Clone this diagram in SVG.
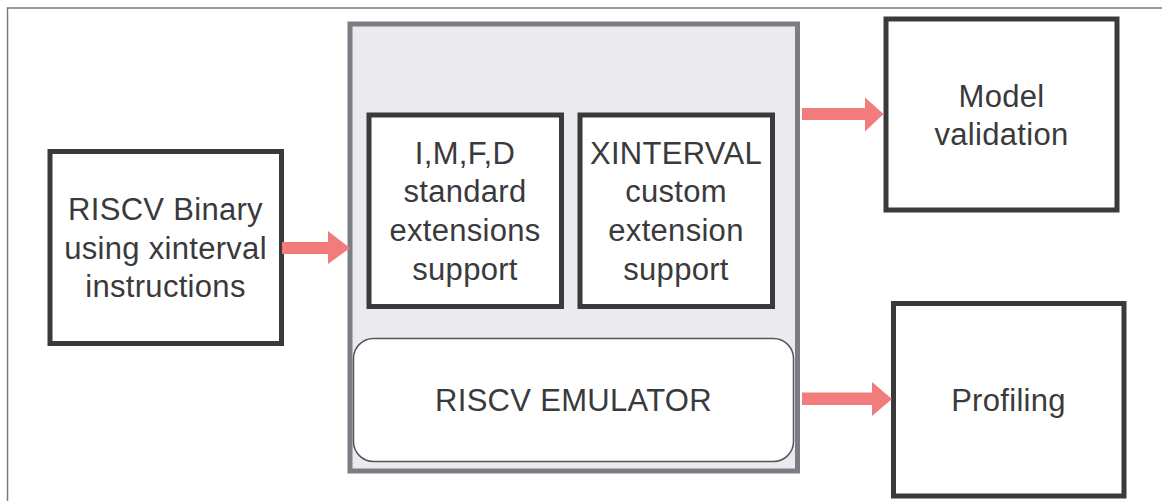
<svg xmlns="http://www.w3.org/2000/svg" width="1162" height="501" viewBox="0 0 1162 501">
<defs>
<style>
.box{fill:#ffffff;stroke:#3a3a3d;stroke-width:5}
.t{font-family:"Liberation Sans",Arial,sans-serif;font-size:31px;letter-spacing:0.3px;fill:#3a3a3c;text-anchor:middle}
.arrow{fill:#f27b7b}
</style>
</defs>
<rect x="0" y="0" width="1162" height="501" fill="#ffffff"/>
<rect x="7.5" y="8" width="1170" height="510" fill="none" stroke="#7a7a7a" stroke-width="1.5"/>
<g id="riscv-binary">
<rect class="box" x="50" y="151.5" width="231.5" height="192"/>
<text class="t" x="165.5" y="220">RISCV Binary</text>
<text class="t" x="165.5" y="258.5">using xinterval</text>
<text class="t" x="165.5" y="297">instructions</text>
</g>
<g id="emulator-container">
<rect x="350" y="24" width="447.5" height="447" fill="#ebebef" stroke="#7b7d83" stroke-width="5"/>
</g>
<g id="std-ext">
<rect class="box" x="369" y="115" width="192.5" height="191.5"/>
<text class="t" x="465" y="163.5">I,M,F,D</text>
<text class="t" x="465" y="202">standard</text>
<text class="t" x="465" y="241">extensions</text>
<text class="t" x="465" y="279.5">support</text>
</g>
<g id="xinterval-ext">
<rect class="box" x="580" y="115" width="192.5" height="191.5"/>
<text class="t" x="676" y="163.5">XINTERVAL</text>
<text class="t" x="676" y="202">custom</text>
<text class="t" x="676" y="241">extension</text>
<text class="t" x="676" y="279.5">support</text>
</g>
<g id="riscv-emulator">
<rect x="353.5" y="338.5" width="440" height="123" rx="20" ry="20" fill="#ffffff" stroke="#55565a" stroke-width="1.5"/>
<text class="t" x="573.5" y="411">RISCV EMULATOR</text>
</g>
<g id="model-validation">
<rect class="box" x="886" y="19" width="231" height="191"/>
<text class="t" x="1001.5" y="106.5">Model</text>
<text class="t" x="1001.5" y="145">validation</text>
</g>
<g id="profiling">
<rect class="box" x="893.5" y="303.5" width="230.5" height="192.5"/>
<text class="t" x="1008.5" y="411">Profiling</text>
</g>
<g id="connectors">
<polygon class="arrow" points="282,242 328,242 328,231 350,248 328,264 328,254 282,254"/>
<polygon class="arrow" points="802,108 865,108 865,97.5 883.5,114 865,131.5 865,120 802,120"/>
<polygon class="arrow" points="802,392.5 872,392.5 872,382 892,399 872,416 872,405 802,405"/>
</g>
</svg>
